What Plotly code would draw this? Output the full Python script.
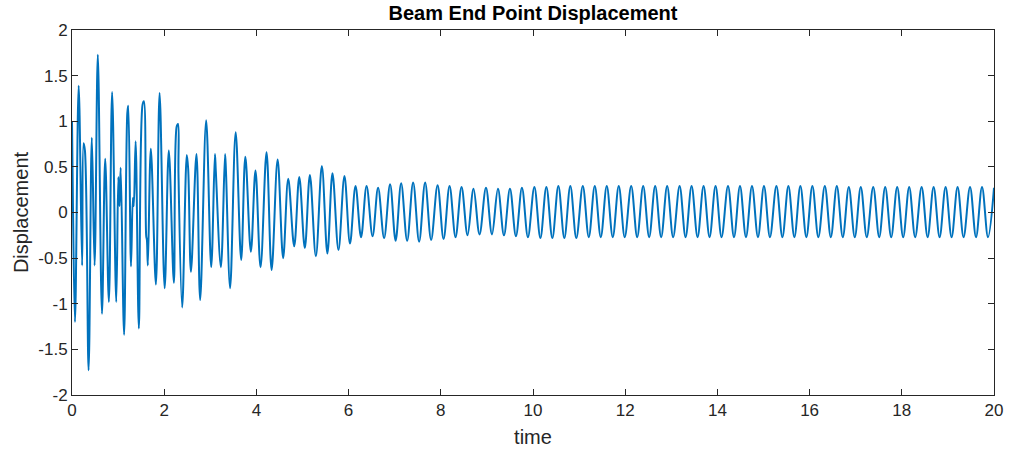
import plotly.graph_objects as go

# Extrema (and a few shoulder points) of the beam end displacement
transient_time = [0.00, 0.02, 0.065, 0.145, 0.22, 0.25, 0.28, 0.36, 0.43, 0.49, 0.56, 0.65, 0.72, 0.80,
                  0.87, 0.96, 1.005, 1.03, 1.056, 1.13, 1.20, 1.22, 1.28, 1.32, 1.34, 1.38, 1.45, 1.53,
                  1.56, 1.61, 1.625, 1.645, 1.71, 1.82, 1.90, 2.01, 2.10, 2.21, 2.27, 2.30, 2.31, 2.39,
                  2.49, 2.52, 2.58, 2.70, 2.78, 2.91, 3.02, 3.10, 3.12, 3.23, 3.32, 3.34, 3.43, 3.55,
                  3.67, 3.76, 3.88, 3.98, 4.09, 4.22, 4.33, 4.46, 4.58, 4.69, 4.82, 4.93, 5.05, 5.16,
                  5.29, 5.42, 5.54, 5.65, 5.78, 5.91, 6.03, 6.15, 6.27, 6.39, 6.52, 6.64, 6.77, 6.90,
                  7.02]
transient_disp = [1.00, 0.10, -1.20, 1.39, -0.58, 0.76, 0.68, -1.73, 0.82, -0.58, 1.73, -1.11, 0.59, -0.98,
                  1.32, -0.98, 0.39, 0.07, 0.49, -1.34, 1.09, 1.17, -0.59, 0.16, 0.07, 0.78, -1.27, 1.18,
                  1.22, -0.26, -0.30, -0.58, 0.70, -0.79, 1.31, -0.83, 0.68, -0.77, 0.94, 0.97, 0.42, -1.04,
                  0.63, 0.48, -0.65, 0.64, -0.96, 1.01, -0.60, 0.64, 0.45, -0.60, 0.64, 0.45, -0.83, 0.88,
                  -0.52, 0.61, -0.43, 0.46, -0.60, 0.66, -0.63, 0.58, -0.50, 0.37, -0.37, 0.39, -0.39, 0.41,
                  -0.48, 0.51, -0.45, 0.43, -0.41, 0.40, -0.34, 0.29, -0.27, 0.29, -0.26, 0.27, -0.28, 0.31,
                  -0.31]

steady_time = [7.14, 7.27, 7.40, 7.53, 7.66, 7.79, 7.93, 8.06, 8.19, 8.32, 8.45, 8.58, 8.71, 8.84,
               8.98, 9.11, 9.24, 9.37, 9.50, 9.63, 9.76, 9.89, 10.03, 10.16, 10.29, 10.42, 10.55, 10.68,
               10.81, 10.94, 11.08, 11.21, 11.34, 11.47, 11.60, 11.73, 11.86, 11.99, 12.13, 12.26, 12.39,
               12.52, 12.65, 12.78, 12.91, 13.04, 13.18, 13.31, 13.44, 13.57, 13.70, 13.83, 13.96, 14.09,
               14.23, 14.36, 14.49, 14.62, 14.75, 14.88, 15.01, 15.14, 15.28, 15.41, 15.54, 15.67, 15.80,
               15.93, 16.06, 16.19, 16.33, 16.46, 16.59, 16.72, 16.85, 16.98, 17.11, 17.24, 17.38, 17.51,
               17.64, 17.77, 17.90, 18.03, 18.16, 18.29, 18.43, 18.56, 18.69, 18.82, 18.95, 19.08, 19.21,
               19.34, 19.48, 19.61, 19.74, 19.87, 20.00]
steady_disp = [0.32, -0.31, 0.33, -0.32, 0.33, -0.30, 0.30, -0.29, 0.29, -0.27, 0.28, -0.25, 0.26, -0.24,
               0.27, -0.24, 0.26, -0.25, 0.26, -0.26, 0.27, -0.27, 0.28, -0.28, 0.28, -0.28, 0.29, -0.28,
               0.29, -0.28, 0.29, -0.27, 0.29, -0.27, 0.29, -0.27, 0.29, -0.27, 0.29, -0.27, 0.29,
               -0.27, 0.29, -0.27, 0.29, -0.27, 0.29, -0.27, 0.29, -0.27, 0.29, -0.27, 0.29, -0.27,
               0.29, -0.27, 0.29, -0.27, 0.29, -0.27, 0.29, -0.27, 0.29, -0.27, 0.29, -0.27, 0.29,
               -0.27, 0.29, -0.27, 0.29, -0.27, 0.29, -0.27, 0.28, -0.27, 0.28, -0.27, 0.28, -0.27,
               0.28, -0.27, 0.28, -0.27, 0.28, -0.27, 0.28, -0.27, 0.28, -0.27, 0.28, -0.27, 0.28,
               -0.27, 0.28, -0.27, 0.28, -0.27, 0.27]

x_ticks = [0, 2, 4, 6, 8, 10, 12, 14, 16, 18, 20]
y_ticks = [-2, -1.5, -1, -0.5, 0, 0.5, 1, 1.5, 2]
y_tick_text = ["-2", "-1.5", "-1", "-0.5", "0", "0.5", "1", "1.5", "2"]

time = transient_time + steady_time
disp = transient_disp + steady_disp

font_family = "Liberation Sans, Arial, Helvetica, sans-serif"
axis_color = "#262626"

fig = go.Figure(go.Scatter(
    x=time, y=disp, mode="lines",
    line=dict(color="#0072BD", width=2, shape="spline", smoothing=1.0),
    showlegend=False,
))

common_axis = dict(
    showgrid=False, zeroline=False, showline=True, linecolor=axis_color, linewidth=1,
    mirror="ticks", ticks="inside", ticklen=6, tickcolor=axis_color, tickwidth=1,
    tickfont=dict(family=font_family, size=17, color=axis_color), automargin=False,
)

fig.update_layout(
    width=1010, height=450,
    margin=dict(l=72, r=16, t=30, b=55, autoexpand=False),
    paper_bgcolor="white", plot_bgcolor="white",
    title=dict(text="<b>Beam End Point Displacement</b>", x=0.5, xref="paper", y=1 - 13 / 450,
               yref="container", yanchor="middle", automargin=False,
               font=dict(family=font_family, size=20, color="black")),
    xaxis=dict(range=[0, 20], tickvals=x_ticks,
               title=dict(text="time", font=dict(family=font_family, size=20, color=axis_color), standoff=10),
               **common_axis),
    yaxis=dict(range=[-2, 2], tickvals=y_ticks, ticktext=y_tick_text,
               title=dict(text="Displacement", font=dict(family=font_family, size=20, color=axis_color), standoff=4),
               **common_axis),
)

fig.write_html("out.html", post_script="document.body.style.margin='0';",
               config={"displayModeBar": False})
